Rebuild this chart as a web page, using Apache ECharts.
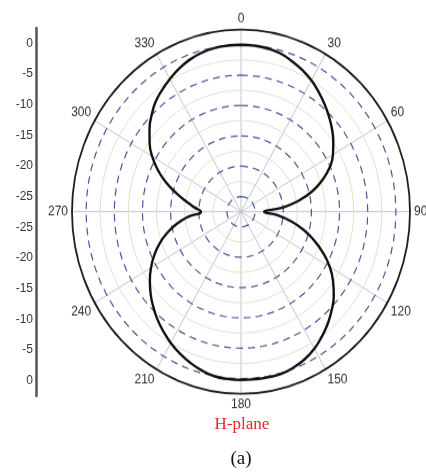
<!DOCTYPE html>
<html>
<head>
<meta charset="utf-8">
<script src="https://cdn.jsdelivr.net/npm/echarts@6/dist/echarts.min.js"></script>
<style>
  html, body { margin: 0; padding: 0; background: #ffffff; overflow: hidden; }
  #polar { position: absolute; left: 0; top: 0; width: 426px; height: 474px;
           transform: scaleY(1.0775); transform-origin: 0 211.7px; }
  #overlay { position: absolute; left: 0; top: 0; width: 426px; height: 474px; }
</style>
</head>
<body>
<div id="polar"></div>
<div id="overlay"></div>
<script>
// ---- data ----
const angleTicks = [0, 30, 60, 90, 120, 150, 180, 210, 240, 270, 300, 330];
const patternAngles = [0,5,10,15,20,25,30,35,40,45,50,55,60,65,70,75,80,85,90,95,100,105,110,115,120,125,130,135,140,145,150,155,160,165,170,175,180,185,190,195,200,205,210,215,220,225,230,235,240,245,250,255,260,265,270,275,280,285,290,295,300,305,310,315,320,325,330,335,340,345,350,355,360];
const patternDb = [0.0,-0.05,-0.2,-0.5,-1.1,-1.75,-2.5,-3.45,-4.4,-5.4,-6.4,-7.5,-8.65,-10.1,-12.1,-14.35,-17.1,-20.3,-23.4,-21.0,-18.5,-16.0,-13.7,-11.4,-9.3,-7.55,-6.0,-4.7,-3.5,-2.45,-1.45,-0.7,-0.2,0.15,0.2,0.2,0.2,0.15,0.0,-0.45,-1.05,-1.75,-2.55,-3.45,-4.4,-5.45,-6.55,-7.75,-9.05,-10.5,-12.1,-13.9,-15.9,-18.1,-20.4,-19.2,-17.6,-15.6,-13.3,-11.2,-9.3,-7.7,-6.3,-5.05,-3.9,-3.05,-2.25,-1.5,-0.85,-0.4,-0.12,-0.03,0.0];
const dashedRings = [-25, -20, -15, -10, -5, 0];
const minorRings = [-22.5, -17.5, -12.5, -7.5, -2.5];
const leftAxisLabels = ['0', '-5', '-10', '-15', '-20', '-25', '-25', '-20', '-15', '-10', '-5', '0'];
const radialMin = -27.5;
const radialMax = 2.5;

function ringData(v) { return patternAngles.map(a => [v, a]); }

const ringSeries = [];
minorRings.forEach(v => ringSeries.push({
  type: 'line', coordinateSystem: 'polar', data: ringData(v), showSymbol: false, symbol: 'none',
  silent: true, z: 1, lineStyle: { color: '#d3e8cc', width: 1 }
}));
dashedRings.forEach(v => ringSeries.push({
  type: 'line', coordinateSystem: 'polar', data: ringData(v), showSymbol: false, symbol: 'none',
  silent: true, z: 2, lineStyle: { color: '#4c5496', width: 1.2, type: [7, 5] }
}));

const polarChart = echarts.init(document.getElementById('polar'), null, { renderer: 'canvas' });
polarChart.setOption({
  animation: false,
  backgroundColor: 'transparent',
  polar: { center: [241, 211.7], radius: 169 },
  angleAxis: {
    type: 'value', min: 0, max: 360, interval: 30, startAngle: 90, clockwise: true,
    axisLine: { show: true, lineStyle: { color: '#1e1e1e', width: 1.8 } },
    axisTick: { show: false },
    splitLine: { show: true, lineStyle: { color: '#c2c4cc', width: 1 } },
    axisLabel: {
      margin: 4, color: '#2e2e2e', fontSize: 12, fontFamily: 'Liberation Sans',
      formatter: v => (angleTicks.indexOf(v) >= 0 ? String(v) : '')
    }
  },
  radiusAxis: {
    type: 'value', min: radialMin, max: radialMax,
    axisLine: { show: false }, axisTick: { show: false }, axisLabel: { show: false },
    splitLine: { show: false }
  },
  series: ringSeries.concat([{
    type: 'line', coordinateSystem: 'polar', z: 5,
    data: patternAngles.map((a, i) => [patternDb[i], a]),
    showSymbol: false, symbol: 'none', smooth: 0.5,
    lineStyle: { color: '#111', width: 2.4 }
  }])
});

const overlay = echarts.init(document.getElementById('overlay'), null, { renderer: 'canvas' });
overlay.setOption({
  animation: false,
  backgroundColor: 'transparent',
  grid: { left: 36, top: 28, width: 10, height: 368 },
  xAxis: { type: 'value', show: false, min: 0, max: 1 },
  yAxis: {
    type: 'category', inverse: true, data: leftAxisLabels, boundaryGap: true,
    axisLine: { show: true, lineStyle: { color: '#555', width: 2.5 } },
    axisTick: { show: false },
    splitLine: { show: false },
    axisLabel: { margin: 3, color: '#3a3a3a', fontSize: 12, fontFamily: 'Liberation Sans' }
  },
  graphic: [
    { type: 'text', style: { text: 'H-plane', x: 242, y: 425, textAlign: 'center', textVerticalAlign: 'middle',
      font: '17px "Liberation Serif"', fill: '#e8262b' } },
    { type: 'text', style: { text: '(a)', x: 241, y: 459, textAlign: 'center', textVerticalAlign: 'middle',
      font: '19px "Liberation Serif"', fill: '#111' } }
  ],
  series: []
});
</script>
</body>
</html>
